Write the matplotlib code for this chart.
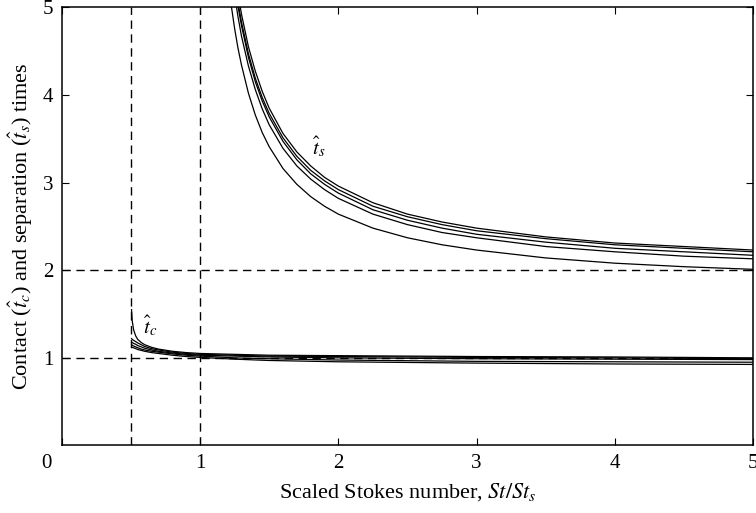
import matplotlib
matplotlib.use("Agg")
import matplotlib.pyplot as plt

plt.rcParams['font.family'] = ['Liberation Serif', 'DejaVu Serif']
plt.rcParams['mathtext.fontset'] = 'stix'

# separation time curves t_s (bottom to top at x=5)
x_s = [1.2, 1.225, 1.25, 1.275, 1.3, 1.35, 1.4, 1.45, 1.5, 1.6, 1.7, 1.8,
       1.9, 2.0, 2.25, 2.5, 2.75, 3.0, 3.5, 4.0, 4.5, 5.0]
ts_1 = [5.35, 5.03, 4.76, 4.53, 4.34, 4.02, 3.77, 3.57, 3.41, 3.16, 2.98, 2.84,
        2.73, 2.64, 2.48, 2.37, 2.29, 2.23, 2.14, 2.08, 2.04, 2.01]
ts_2 = [5.79, 5.43, 5.14, 4.89, 4.67, 4.33, 4.06, 3.84, 3.66, 3.39, 3.19, 3.04,
        2.92, 2.82, 2.64, 2.52, 2.43, 2.37, 2.27, 2.21, 2.16, 2.13]
ts_3 = [5.93, 5.57, 5.27, 5.01, 4.79, 4.43, 4.15, 3.93, 3.75, 3.47, 3.26, 3.10,
        2.98, 2.88, 2.69, 2.57, 2.48, 2.41, 2.32, 2.25, 2.21, 2.17]
ts_4 = [5.97, 5.61, 5.31, 5.05, 4.83, 4.47, 4.19, 3.97, 3.79, 3.51, 3.30, 3.14,
        3.02, 2.92, 2.73, 2.61, 2.52, 2.45, 2.36, 2.29, 2.25, 2.21]
ts_5 = [6.10, 5.72, 5.41, 5.15, 4.92, 4.55, 4.27, 4.04, 3.85, 3.56, 3.35, 3.19,
        3.06, 2.96, 2.77, 2.64, 2.55, 2.48, 2.38, 2.31, 2.27, 2.23]

# contact time curves t_c
x_c = [0.505, 0.51, 0.52, 0.535, 0.55, 0.575, 0.6, 0.65, 0.7, 0.8, 0.9, 1.0,
       1.25, 1.5, 2.0, 3.0, 4.0, 5.0]
tc_1 = [1.55, 1.42, 1.32, 1.25, 1.21, 1.175, 1.15, 1.12, 1.10, 1.075, 1.06, 1.05,
        1.04, 1.03, 1.025, 1.015, 1.01, 1.00]
tc_2 = [1.22, 1.21, 1.20, 1.185, 1.17, 1.15, 1.13, 1.105, 1.09, 1.065, 1.05, 1.04,
        1.03, 1.02, 1.015, 1.005, 1.0, 0.99]
tc_3 = [1.18, 1.175, 1.165, 1.155, 1.14, 1.125, 1.11, 1.09, 1.075, 1.055, 1.04, 1.03,
        1.02, 1.01, 1.0, 0.99, 0.985, 0.98]
tc_4 = [1.15, 1.145, 1.135, 1.125, 1.115, 1.10, 1.09, 1.075, 1.065, 1.045, 1.03, 1.02,
        1.0, 0.99, 0.975, 0.96, 0.955, 0.95]
tc_5 = [1.125, 1.12, 1.115, 1.105, 1.095, 1.085, 1.075, 1.06, 1.05, 1.03, 1.015, 1.005,
        0.985, 0.97, 0.955, 0.94, 0.93, 0.925]

v_lines = [0.5, 1.0]
h_lines = [1.0, 2.0]

fig = plt.figure(figsize=(7.56, 5.13), dpi=100)
ax = fig.add_axes([0.0816, 0.1316, 0.9148, 0.8542])

for v in v_lines:
    ax.axvline(v, color='black', lw=1.0, ls=(0, (6, 4)))
for h in h_lines:
    ax.axhline(h, color='black', lw=1.0, ls=(0, (6, 4)))

for ys in [ts_1, ts_2, ts_3, ts_4, ts_5]:
    ax.plot(x_s, ys, color='black', lw=0.9)
for ys in [tc_1, tc_2, tc_3, tc_4, tc_5]:
    ax.plot(x_c, ys, color='black', lw=0.9)

ax.text(1.855, 3.41, r'$\hat{t}_s$', fontsize=15, ha='center', va='center')
ax.text(0.64, 1.37, r'$\hat{t}_c$', fontsize=15, ha='center', va='center')

ax.set_xlim(0, 5)
ax.set_ylim(0, 5)
ax.set_xticks([0, 1, 2, 3, 4, 5])
ax.set_xticklabels(['', '1', '2', '3', '4', '5'])
ax.set_yticks([1, 2, 3, 4, 5])
ax.tick_params(direction='in', length=5, width=0.8, top=True, right=True,
               labelsize=15, pad=6)
ax.text(-0.11, -0.02, '0', transform=ax.get_xaxis_transform(),
        ha='center', va='top', fontsize=15)
for s in ax.spines.values():
    s.set_linewidth(1.1)

ax.set_xlabel(r'Scaled Stokes number, $St/St_s$', fontsize=16, labelpad=6)
ax.set_ylabel(r'Contact ($\hat{t}_c$) and separation ($\hat{t}_s$) times',
              fontsize=16, labelpad=6)

fig.savefig('out.png', dpi=100)
